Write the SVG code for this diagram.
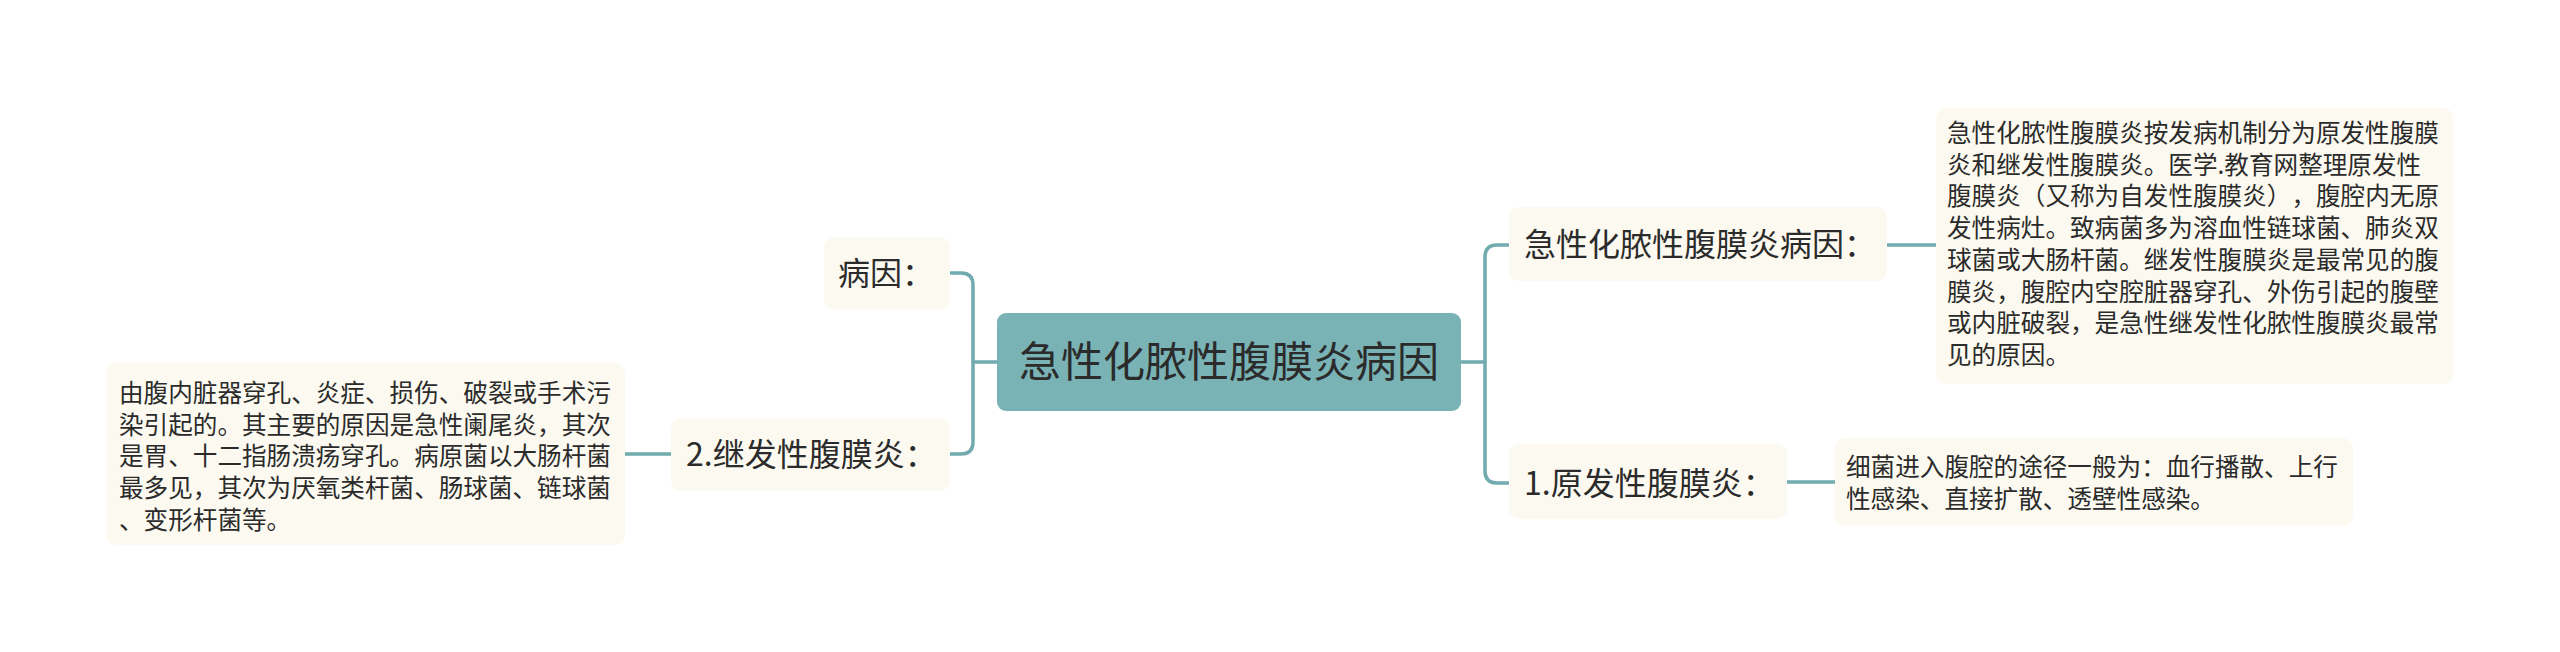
<svg xmlns="http://www.w3.org/2000/svg" width="2560" height="652" viewBox="0 0 2560 652">
<style>
.bg{fill:#ffffff}
.conn{fill:none;stroke:#72abaf;stroke-width:3.5;stroke-linecap:round}
.root rect{fill:#7ab3b6}
.box{fill:#fcfaf0}
text{font-family:"Noto Sans CJK SC","Noto Sans",sans-serif;fill:#2b2b2b;text-spacing-trim:space-all}
.t0{font-size:42px}
.t1{font-size:32px}
.t2{font-size:24.6px}
</style>
<rect class="bg" x="0" y="0" width="2560" height="652"/>
<g id="connectors">
<path class="conn" d="M1461,362 H1485"/>
<path class="conn" d="M1509,245 H1497 Q1485,245 1485,257 V471 Q1485,483 1497,483 H1509"/>
<path class="conn" d="M997,362 H973"/>
<path class="conn" d="M950,273 H961 Q973,273 973,285 V442 Q973,454 961,454 H950"/>
<path class="conn" d="M1887,245 H1936"/>
<path class="conn" d="M1787,482 H1835"/>
<path class="conn" d="M671,454 H625"/>
</g>
<g id="root" class="root">
<rect x="997" y="313" width="464" height="98" rx="9"/>
<text class="t0" x="1229" y="377" text-anchor="middle">急性化脓性腹膜炎病因</text>
</g>
<g id="n-right1">
<rect class="box" x="1509" y="207" width="378" height="74" rx="10"/>
<text class="t1" x="1524" y="256">急性化脓性腹膜炎病因：</text>
</g>
<g id="n-right1-detail">
<rect class="box" x="1936" y="108" width="517" height="276" rx="10"/>
<text class="t2">
<tspan x="1947" y="142">急性化脓性腹膜炎按发病机制分为原发性腹膜</tspan>
<tspan x="1947" y="173.7">炎和继发性腹膜炎。医学.教育网整理原发性</tspan>
<tspan x="1947" y="205.4" textLength="492" lengthAdjust="spacing">腹膜炎（又称为自发性腹膜炎），腹腔内无原</tspan>
<tspan x="1947" y="237.1">发性病灶。致病菌多为溶血性链球菌、肺炎双</tspan>
<tspan x="1947" y="268.8">球菌或大肠杆菌。继发性腹膜炎是最常见的腹</tspan>
<tspan x="1947" y="300.5">膜炎，腹腔内空腔脏器穿孔、外伤引起的腹壁</tspan>
<tspan x="1947" y="332.2">或内脏破裂，是急性继发性化脓性腹膜炎最常</tspan>
<tspan x="1947" y="363.9">见的原因。</tspan>
</text>
</g>
<g id="n-right2">
<rect class="box" x="1509" y="444" width="278" height="75" rx="10"/>
<text class="t1" x="1524" y="495">1.原发性腹膜炎：</text>
</g>
<g id="n-right2-detail">
<rect class="box" x="1835" y="438" width="518" height="88" rx="10"/>
<text class="t2">
<tspan x="1846" y="476">细菌进入腹腔的途径一般为：血行播散、上行</tspan>
<tspan x="1846" y="508">性感染、直接扩散、透壁性感染。</tspan>
</text>
</g>
<g id="n-left1">
<rect class="box" x="824" y="237" width="126" height="72" rx="10"/>
<text class="t1" x="838" y="285">病因：</text>
</g>
<g id="n-left2">
<rect class="box" x="671" y="418" width="279" height="73" rx="10"/>
<text class="t1" x="686" y="466">2.继发性腹膜炎：</text>
</g>
<g id="n-left2-detail">
<rect class="box" x="106" y="363" width="519" height="182" rx="10"/>
<text class="t2">
<tspan x="119" y="402">由腹内脏器穿孔、炎症、损伤、破裂或手术污</tspan>
<tspan x="119" y="433.7">染引起的。其主要的原因是急性阑尾炎，其次</tspan>
<tspan x="119" y="465.4">是胃、十二指肠溃疡穿孔。病原菌以大肠杆菌</tspan>
<tspan x="119" y="497.1">最多见，其次为厌氧类杆菌、肠球菌、链球菌</tspan>
<tspan x="119" y="528.8">、变形杆菌等。</tspan>
</text>
</g>
</svg>
